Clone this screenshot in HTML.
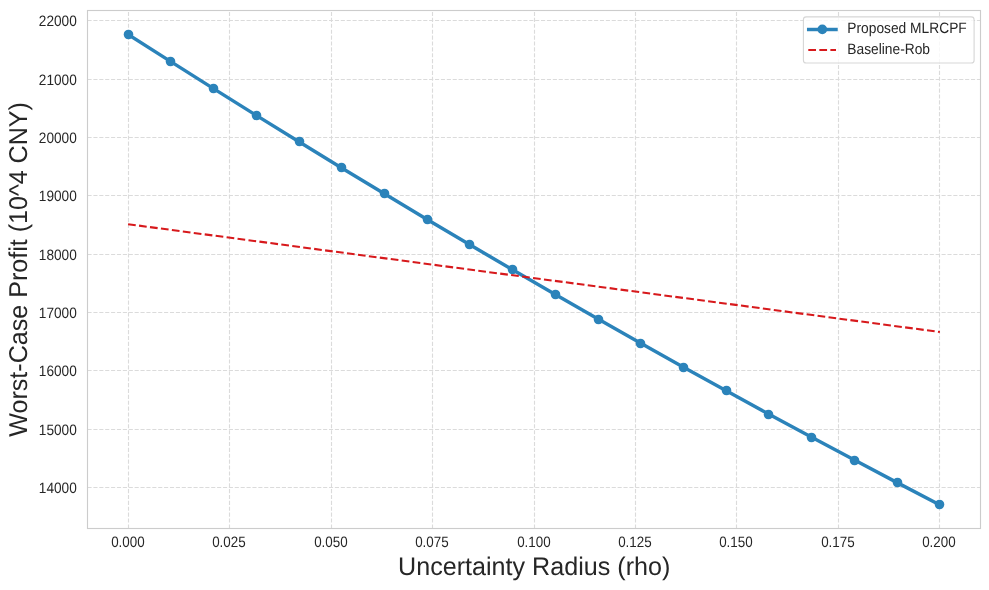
<!DOCTYPE html>
<html><head><meta charset="utf-8"><title>Worst-Case Profit vs Uncertainty Radius</title>
<style>
html,body{margin:0;padding:0;background:#fff;}
svg{display:block;}
text{text-rendering:geometricPrecision;font-family:"Liberation Sans",Arial,sans-serif;fill:#262626;}
.tick{font-size:13.89px;}
.lab{font-size:25px;}
</style></head><body>
<svg width="989" height="590" viewBox="0 0 989 590">
<rect width="989" height="590" fill="#fff"/>

<g stroke="#dbdbdb" stroke-width="1.11" stroke-dasharray="4.11 1.78" fill="none">
<line x1="128.5" y1="528.5" x2="128.5" y2="10.5"/>
<line x1="229.5" y1="528.5" x2="229.5" y2="10.5"/>
<line x1="331.5" y1="528.5" x2="331.5" y2="10.5"/>
<line x1="432.5" y1="528.5" x2="432.5" y2="10.5"/>
<line x1="534.5" y1="528.5" x2="534.5" y2="10.5"/>
<line x1="635.5" y1="528.5" x2="635.5" y2="10.5"/>
<line x1="736.5" y1="528.5" x2="736.5" y2="10.5"/>
<line x1="838.5" y1="528.5" x2="838.5" y2="10.5"/>
<line x1="939.5" y1="528.5" x2="939.5" y2="10.5"/>
<line x1="87.5" y1="20.5" x2="980.5" y2="20.5"/>
<line x1="87.5" y1="79.5" x2="980.5" y2="79.5"/>
<line x1="87.5" y1="137.5" x2="980.5" y2="137.5"/>
<line x1="87.5" y1="195.5" x2="980.5" y2="195.5"/>
<line x1="87.5" y1="254.5" x2="980.5" y2="254.5"/>
<line x1="87.5" y1="312.5" x2="980.5" y2="312.5"/>
<line x1="87.5" y1="370.5" x2="980.5" y2="370.5"/>
<line x1="87.5" y1="429.5" x2="980.5" y2="429.5"/>
<line x1="87.5" y1="487.5" x2="980.5" y2="487.5"/>
</g>
<polyline points="128.10,34.38 170.83,61.65 213.55,88.65 256.28,115.37 299.01,141.81 341.73,167.97 384.46,193.85 427.18,219.45 469.91,244.77 512.64,269.81 555.36,294.58 598.09,319.06 640.82,343.26 683.54,367.19 726.27,390.83 768.99,414.20 811.72,437.28 854.45,460.09 897.17,482.62 939.90,504.87" fill="none" stroke="#2b83ba" stroke-width="3.47" stroke-linejoin="round" stroke-linecap="square"/>
<g fill="#2b83ba">
<circle cx="128.5" cy="34.5" r="4.8"/>
<circle cx="170.5" cy="61.5" r="4.8"/>
<circle cx="213.5" cy="88.5" r="4.8"/>
<circle cx="256.5" cy="115.5" r="4.8"/>
<circle cx="299.5" cy="141.5" r="4.8"/>
<circle cx="341.5" cy="167.5" r="4.8"/>
<circle cx="384.5" cy="193.5" r="4.8"/>
<circle cx="427.5" cy="219.5" r="4.8"/>
<circle cx="469.5" cy="244.5" r="4.8"/>
<circle cx="512.5" cy="269.5" r="4.8"/>
<circle cx="555.5" cy="294.5" r="4.8"/>
<circle cx="598.5" cy="319.5" r="4.8"/>
<circle cx="640.5" cy="343.5" r="4.8"/>
<circle cx="683.5" cy="367.5" r="4.8"/>
<circle cx="726.5" cy="390.5" r="4.8"/>
<circle cx="768.5" cy="414.5" r="4.8"/>
<circle cx="811.5" cy="437.5" r="4.8"/>
<circle cx="854.5" cy="460.5" r="4.8"/>
<circle cx="897.5" cy="482.5" r="4.8"/>
<circle cx="939.5" cy="504.5" r="4.8"/>
</g>
<line x1="128.10" y1="224.2" x2="939.90" y2="332.0" stroke="#d7191c" stroke-width="2.08" stroke-dasharray="7.71 3.33"/>
<rect x="87.5" y="10.5" width="893.00" height="518.00" fill="none" stroke="#cccccc" stroke-width="1.11"/>
<g class="tick" text-anchor="end">
<text transform="translate(76.8 25.90) scale(0.983 1.085)">22000</text>
<text transform="translate(76.8 84.90) scale(0.983 1.085)">21000</text>
<text transform="translate(76.8 142.90) scale(0.983 1.085)">20000</text>
<text transform="translate(76.8 200.90) scale(0.983 1.085)">19000</text>
<text transform="translate(76.8 259.90) scale(0.983 1.085)">18000</text>
<text transform="translate(76.8 317.90) scale(0.983 1.085)">17000</text>
<text transform="translate(76.8 375.90) scale(0.983 1.085)">16000</text>
<text transform="translate(76.8 434.90) scale(0.983 1.085)">15000</text>
<text transform="translate(76.8 492.90) scale(0.983 1.085)">14000</text>
</g><g class="tick" text-anchor="middle">
<text transform="translate(127.90 547.3) scale(0.965 1.085)">0.000</text>
<text transform="translate(228.90 547.3) scale(0.965 1.085)">0.025</text>
<text transform="translate(330.90 547.3) scale(0.965 1.085)">0.050</text>
<text transform="translate(431.90 547.3) scale(0.965 1.085)">0.075</text>
<text transform="translate(533.90 547.3) scale(0.965 1.085)">0.100</text>
<text transform="translate(634.90 547.3) scale(0.965 1.085)">0.125</text>
<text transform="translate(735.90 547.3) scale(0.965 1.085)">0.150</text>
<text transform="translate(837.90 547.3) scale(0.965 1.085)">0.175</text>
<text transform="translate(938.90 547.3) scale(0.965 1.085)">0.200</text>
</g>
<text class="lab" text-anchor="middle" transform="translate(534.2 574.6) scale(1.005 1.02)">Uncertainty Radius (rho)</text>
<text class="lab" text-anchor="middle" transform="translate(26.9 269.4) rotate(-90) scale(1.003 1.03)">Worst-Case Profit (10^4 CNY)</text>
<rect x="803.4" y="16.9" width="170.7" height="46.1" rx="2.8" ry="2.8" fill="#fff" fill-opacity="0.8" stroke="#cccccc" stroke-opacity="0.8" stroke-width="1.11"/>
<line x1="808.7" y1="29.5" x2="836" y2="29.5" stroke="#2b83ba" stroke-width="3.47" stroke-linecap="square"/>
<circle cx="822.3" cy="29.4" r="4.86" fill="#2b83ba"/>
<line x1="808.3" y1="50" x2="836" y2="50" stroke="#d7191c" stroke-width="2.08" stroke-dasharray="7.71 3.33"/>
<text class="tick" transform="translate(847.3 33.2) scale(0.993 1.085)">Proposed MLRCPF</text>
<text class="tick" transform="translate(847.3 53.6) scale(0.993 1.085)">Baseline-Rob</text>
</svg></body></html>
